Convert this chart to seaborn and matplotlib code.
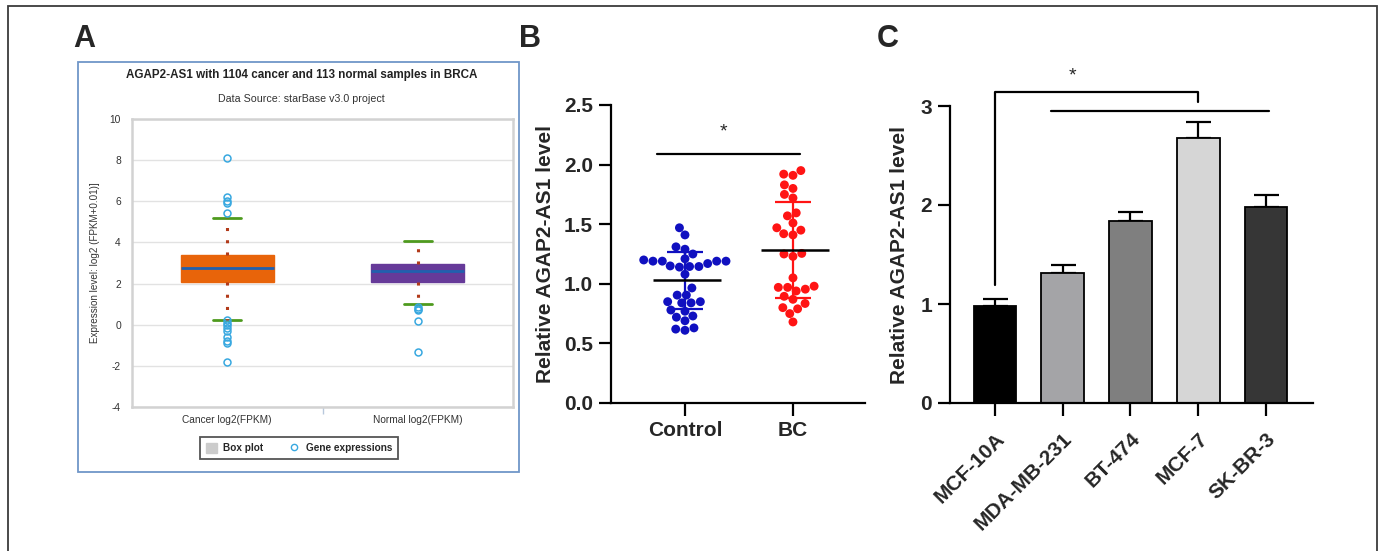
import numpy as np
import pandas as pd
import matplotlib
matplotlib.use('Agg')
import matplotlib.pyplot as plt
import seaborn as sns
from matplotlib.patches import Rectangle, Patch
from matplotlib.lines import Line2D

# ---------------- data ----------------
# panel A: starBase box plot summary
box_labels = ['Cancer log2(FPKM)', 'Normal log2(FPKM)']
box_q1 = [2.1, 2.1]
box_med = [2.75, 2.6]
box_q3 = [3.4, 2.95]
box_lo = [0.25, 1.0]
box_hi = [5.2, 4.05]
cancer_outliers = [8.1, 6.2, 6.0, 5.9, 5.45, 0.25, 0.1, 0.0, -0.15, -0.3, -0.6, -0.8, -0.9, -1.8]
normal_outliers = [0.85, 0.75, 0.7, 0.2, -1.35]

# panel B: individual samples
control_vals = [1.47, 1.41, 1.31, 1.29, 1.25, 1.21, 1.20, 1.19, 1.19, 1.19, 1.19, 1.17,
                1.15, 1.145, 1.145, 1.14, 1.08, 0.965, 0.905, 0.905, 0.85, 0.85, 0.84,
                0.84, 0.78, 0.77, 0.73, 0.72, 0.69, 0.63, 0.62, 0.61]
bc_vals = [1.95, 1.92, 1.91, 1.83, 1.80, 1.75, 1.72, 1.595, 1.57, 1.51, 1.47, 1.45,
           1.42, 1.41, 1.255, 1.25, 1.23, 1.05, 0.98, 0.97, 0.97, 0.955, 0.94, 0.895,
           0.87, 0.835, 0.80, 0.79, 0.75, 0.68]
group_names = ['Control', 'BC']
group_means = [1.03, 1.285]
group_sds = [0.24, 0.40]

# panel C: cell lines
cell_lines = ['MCF-10A', 'MDA-MB-231', 'BT-474', 'MCF-7', 'SK-BR-3']
cell_means = [0.98, 1.31, 1.84, 2.68, 1.98]
cell_errs = [0.07, 0.08, 0.09, 0.16, 0.12]
cell_colors = ['#000000', '#A3A3A8', '#7F7F7F', '#D6D6D6', '#363636']

W, H = 1382, 551

sns.set_style('white')
plt.rcParams['font.family'] = ['Liberation Sans', 'DejaVu Sans']
plt.rcParams['axes.unicode_minus'] = False


def px_rect(x0, y0, x1, y1):
    return [x0 / W, 1 - y1 / H, (x1 - x0) / W, (y1 - y0) / H]


fig = plt.figure(figsize=(W / 100, H / 100), dpi=100)

# outer frame and panel A frame
fig.add_artist(Rectangle((8 / W, -0.1), (1377 - 8) / W, 1 - 6 / H + 0.1,
                         transform=fig.transFigure, fill=False, ec='#3c3c3c', lw=1.3))
fig.add_artist(Rectangle((78 / W, 1 - 472 / H), 441 / W, 410 / H,
                         transform=fig.transFigure, fill=False, ec='#7096C8', lw=1.3))

for letter, x in [('A', 84), ('B', 530), ('C', 888)]:
    fig.text(x / W, 1 - 39 / H, letter, fontsize=22, fontweight='bold', ha='center', va='center')

# ---------------- panel A ----------------
axA = fig.add_axes(px_rect(132, 119, 513, 407))
stats = []
for i, lab in enumerate(box_labels):
    stats.append(dict(label=lab, q1=box_q1[i], med=box_med[i], q3=box_q3[i],
                      whislo=box_lo[i], whishi=box_hi[i],
                      fliers=[cancer_outliers, normal_outliers][i]))
bp = axA.bxp(stats, positions=[0, 1], widths=0.49, capwidths=0.147, patch_artist=True,
             showfliers=True,
             whiskerprops=dict(color='#B23A1A', lw=2.2, linestyle=(0, (1, 3))),
             capprops=dict(color='#4E9A1E', lw=2),
             medianprops=dict(color='#2160AE', lw=2),
             flierprops=dict(marker='o', mfc='none', mec='#38A8E0', ms=5, mew=1.1))
for patch, col in zip(bp['boxes'], ['#E8640A', '#663A99']):
    patch.set_facecolor(col)
    patch.set_edgecolor(col)
for w in bp['whiskers']:
    w.set_zorder(3)
axA.set_xlim(-0.5, 1.5)
axA.set_ylim(-4, 10)
axA.set_yticks(range(-4, 11, 2))
axA.yaxis.grid(True, color='#E2E2E2', lw=1)
axA.set_axisbelow(True)
for s in axA.spines.values():
    s.set_color('#D2D2D2')
    s.set_linewidth(1.8)
axA.tick_params(axis='y', length=0, labelsize=7.4, labelcolor='#333333', pad=8)
axA.tick_params(axis='x', length=0, labelsize=7.3, labelcolor='#333333', pad=6)
axA.set_xticks([0.5], minor=True)
axA.tick_params(axis='x', which='minor', bottom=True, length=5, color='#B8C8DC', width=1)
axA.set_ylabel('Expression level: log2 (FPKM+0.01)]', fontsize=7.1, color='#333333', labelpad=7)
fig.text(302 / W, 1 - 75 / H, 'AGAP2-AS1 with 1104 cancer and 113 normal samples in BRCA',
         fontsize=8.4, fontweight='bold', ha='center', va='center', color='#222222')
fig.text(301 / W, 1 - 99 / H, 'Data Source: starBase v3.0 project',
         fontsize=7.7, ha='center', va='center', color='#333333')
handles = [Patch(fc='#CCCCCC', ec='#CCCCCC'),
           Line2D([], [], marker='o', ls='none', mfc='none', mec='#38A8E0', ms=4.5, mew=1)]
leg = axA.legend(handles, ['Box plot', 'Gene expressions'], ncol=2, loc='center',
                 bbox_to_anchor=(299 / W, 1 - 448 / H), bbox_transform=fig.transFigure,
                 frameon=True, fancybox=False, edgecolor='#555555', framealpha=1,
                 prop=dict(size=7.2, weight='bold'), handlelength=1.1, handleheight=1.1,
                 handletextpad=0.6, columnspacing=2.6, borderpad=0.55)
leg.get_frame().set_linewidth(1.3)

# ---------------- panel B ----------------
axB = fig.add_axes(px_rect(611, 105, 865, 403))
dfB = pd.DataFrame({'group': ['Control'] * len(control_vals) + ['BC'] * len(bc_vals),
                    'value': control_vals + bc_vals})
sns.swarmplot(data=dfB, x='group', y='value', hue='group', order=group_names,
              palette={'Control': '#1010C0', 'BC': '#FF1414'}, size=6.4,
              legend=False, ax=axB, zorder=2)
for i, col in enumerate(['#1010C0', '#FF1414']):
    axB.errorbar(i, group_means[i], yerr=group_sds[i], fmt='none', ecolor=col,
                 elinewidth=1.6, capsize=13, capthick=1.6, zorder=3)
axB.hlines(group_means, np.arange(2) - 0.3, np.arange(2) + 0.33, color='black', lw=1.8, zorder=4)
axB.plot([-0.26, 1.065], [2.09, 2.09], color='black', lw=1.6, clip_on=False)
axB.text(0.36, 2.27, '*', fontsize=14, ha='center', va='center')
axB.set_xlim(-0.685, 1.667)
axB.set_ylim(0, 2.5)
axB.set_yticks(np.arange(0, 2.51, 0.5))
axB.set_yticklabels([f'{v:.1f}' for v in np.arange(0, 2.51, 0.5)])
axB.set_xlabel('')
axB.set_ylabel('Relative AGAP2-AS1 level', fontsize=15, fontweight='bold', labelpad=6)
sns.despine(ax=axB)
for s in ['left', 'bottom']:
    axB.spines[s].set_linewidth(1.6)
    axB.spines[s].set_color('black')
axB.tick_params(axis='both', left=True, bottom=True, length=9, width=1.6, color='black',
                labelsize=15, pad=4)
for t in axB.get_xticklabels() + axB.get_yticklabels():
    t.set_fontweight('bold')

# ---------------- panel C ----------------
axC = fig.add_axes(px_rect(950, 106, 1313, 403))
dfC = pd.DataFrame({'cell': cell_lines, 'level': cell_means})
sns.barplot(data=dfC, x='cell', y='level', hue='cell', order=cell_lines,
            palette=dict(zip(cell_lines, cell_colors)), width=0.63, edgecolor='black',
            linewidth=1.3, legend=False, ax=axC, zorder=2)
axC.errorbar(np.arange(len(cell_lines)), cell_means,
             yerr=[np.zeros(len(cell_errs)), cell_errs], fmt='none', ecolor='black',
             elinewidth=1.6, capsize=9, capthick=1.6, zorder=1)
axC.plot([0, 0, 3, 3], [1.19, 3.14, 3.14, 3.04], color='black', lw=1.6, clip_on=False)
axC.plot([0.83, 4.04], [2.95, 2.95], color='black', lw=1.6, clip_on=False)
axC.text(1.14, 3.3, '*', fontsize=14, ha='center', va='center')
axC.set_xlim(-0.664, 4.694)
axC.set_ylim(0, 3)
axC.set_yticks([0, 1, 2, 3])
axC.set_xlabel('')
axC.set_ylabel('Relative AGAP2-AS1 level', fontsize=15, fontweight='bold', labelpad=8)
sns.despine(ax=axC)
for s in ['left', 'bottom']:
    axC.spines[s].set_linewidth(1.6)
    axC.spines[s].set_color('black')
axC.tick_params(axis='both', left=True, bottom=True, length=9, width=1.6, color='black')
axC.tick_params(axis='y', labelsize=15, pad=4)
axC.tick_params(axis='x', pad=10)
axC.set_xticks(range(len(cell_lines)))
axC.set_xticklabels(cell_lines, rotation=45, ha='right', rotation_mode='anchor',
                    fontsize=15, fontweight='bold')
for t in axC.get_yticklabels():
    t.set_fontweight('bold')

fig.savefig('out.png', dpi=100)
